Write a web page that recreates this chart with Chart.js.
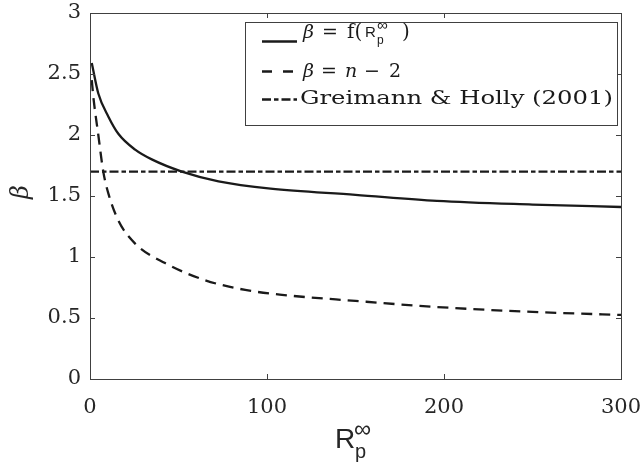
<!DOCTYPE html>
<html>
<head>
<meta charset="utf-8">
<script src="https://cdn.jsdelivr.net/npm/chart.js@4.4.1/dist/chart.umd.min.js"></script>
<style>
  html, body { margin: 0; padding: 0; background: #fff; }
  #wrap { width: 641px; height: 465px; }
</style>
</head>
<body>
<div id="wrap"><canvas id="chart" width="641" height="465"></canvas></div>
<script>
// values
const xTicks = [0, 100, 200, 300];
const yTicks = [0, 0.5, 1, 1.5, 2, 2.5, 3];

const fX = [1, 4.7, 10.4, 16, 25.5, 34.9, 51.9, 72.6, 102, 150, 196, 250, 300];
const fY = [2.59, 2.34, 2.15, 2.01, 1.88, 1.80, 1.70, 1.62, 1.56, 1.51, 1.46, 1.43, 1.41];

const nX = [1, 1.9, 4.7, 7.5, 10.4, 16, 25.5, 42.4, 65, 87.7, 108.5, 150, 196, 250, 300];
const nY = [2.45, 2.31, 2.0, 1.70, 1.52, 1.30, 1.11, 0.95, 0.81, 0.73, 0.69, 0.64, 0.59, 0.55, 0.525];

const ghX = [0, 300];
const ghY = [1.7, 1.7];

const ink = "#1a1a1a";
const axisInk = "#404040";
const serif = "'DejaVu Serif', 'Liberation Serif', serif";
const sans = "'Liberation Sans', Arial, sans-serif";
const dashDot = [9, 3, 4.5, 3];

function pts(xs, ys) {
  return xs.map((x, i) => ({ x: x, y: ys[i] }));
}

function txt(c, t, font, x, y) {
  c.font = font;
  c.fillText(t, x, y);
}

// box, inward ticks, titles and legend
const decor = {
  id: "decor",
  afterDraw(chart) {
    const c = chart.ctx;
    const a = chart.chartArea;
    const sx = chart.scales.x, sy = chart.scales.y;
    c.save();
    c.strokeStyle = axisInk;
    c.lineWidth = 1;
    c.strokeRect(Math.round(a.left) + 0.5, Math.round(a.top) + 0.5,
                 Math.round(a.right - a.left), Math.round(a.bottom - a.top));
    c.beginPath();
    xTicks.forEach(v => {
      const px = Math.round(sx.getPixelForValue(v)) + 0.5;
      c.moveTo(px, a.bottom); c.lineTo(px, a.bottom - 5);
      c.moveTo(px, a.top); c.lineTo(px, a.top + 5);
    });
    yTicks.forEach(v => {
      const py = Math.round(sy.getPixelForValue(v)) + 0.5;
      c.moveTo(a.left, py); c.lineTo(a.left + 5, py);
      c.moveTo(a.right, py); c.lineTo(a.right - 5, py);
    });
    c.stroke();

    c.fillStyle = "#262626";
    c.textBaseline = "alphabetic";
    // y title
    c.save();
    c.translate(28, 192);
    c.rotate(-Math.PI / 2);
    c.font = "italic 24px " + serif;
    c.textAlign = "center";
    c.fillText("β", 0, 0);
    c.restore();
    // x title
    c.textAlign = "left";
    txt(c, "R", "28px " + sans, 335, 448);
    txt(c, "p", "20px " + sans, 355, 458);
    txt(c, "∞", "24px " + sans, 354, 437);

    // legend
    const lx = 245, ly = 22, lw = 372, lh = 103;
    c.fillStyle = "#fff";
    c.fillRect(lx, ly, lw, lh);
    c.strokeStyle = axisInk;
    c.strokeRect(lx + 0.5, ly + 0.5, lw, lh);
    c.strokeStyle = ink;
    c.lineWidth = 2.3;
    const rows = [41.5, 71.5, 99.5];
    const dashes = [[], [10, 11], dashDot];
    rows.forEach((y, i) => {
      c.setLineDash(dashes[i]);
      c.beginPath();
      c.moveTo(262, y); c.lineTo(297, y);
      c.stroke();
    });
    c.setLineDash([]);
    c.fillStyle = ink;
    const it = "italic 19px " + serif, rm = "19px " + serif;
    // row 1
    txt(c, "β", it, 303, 38);
    txt(c, "=", rm, 322, 38);
    txt(c, "f(", "20px " + serif, 347, 38);
    txt(c, "R", "15px " + sans, 365, 37);
    txt(c, "p", "12px " + sans, 377, 44);
    txt(c, "∞", "15px " + sans, 377, 30);
    txt(c, ")", "20px " + serif, 402, 38);
    // row 2
    txt(c, "β", it, 303, 77);
    txt(c, "=", rm, 321, 77);
    txt(c, "n", it, 345, 77);
    txt(c, "−", rm, 364, 77);
    txt(c, "2", rm, 389, 77);
    // row 3, stretched to the reference width
    c.font = rm;
    const t = "Greimann & Holly (2001)";
    const w = c.measureText(t).width;
    c.save();
    c.translate(300, 104);
    c.scale(313 / w, 1);
    c.fillText(t, 0, 0);
    c.restore();
    c.restore();
  }
};

const ctx = document.getElementById("chart").getContext("2d");
const chart = new Chart(ctx, {
  type: "scatter",
  data: {
    datasets: [
      {
        label: "f",
        data: pts(fX, fY),
        showLine: true,
        borderColor: ink,
        borderWidth: 2.3,
        pointRadius: 0,
        cubicInterpolationMode: "monotone",
      },
      {
        label: "n-2",
        data: pts(nX, nY),
        showLine: true,
        borderColor: ink,
        borderWidth: 2.3,
        borderDash: [11, 7],
        pointRadius: 0,
        cubicInterpolationMode: "monotone",
      },
      {
        label: "GH",
        data: pts(ghX, ghY),
        showLine: true,
        borderColor: ink,
        borderWidth: 2.3,
        borderDash: dashDot,
        pointRadius: 0,
      },
    ],
  },
  options: {
    responsive: false,
    animation: false,
    layout: { padding: { left: 0, right: 20, top: 13, bottom: 0 } },
    plugins: {
      legend: { display: false },
      tooltip: { enabled: false },
    },
    scales: {
      x: {
        type: "linear",
        min: 0,
        max: 300,
        afterBuildTicks: s => { s.ticks = xTicks.map(v => ({ value: v })); },
        afterFit: s => { s.height = 86; s.paddingLeft = 0; s.paddingRight = 0; },
        grid: { display: false, drawTicks: false },
        border: { display: false },
        ticks: { color: "#262626", font: { family: serif, size: 21 }, padding: 16, maxRotation: 0,
                 callback: v => String(v) },
      },
      y: {
        type: "linear",
        min: 0,
        max: 3,
        afterBuildTicks: s => { s.ticks = yTicks.map(v => ({ value: v })); },
        afterFit: s => { s.width = 90; s.paddingTop = 0; s.paddingBottom = 0; },
        grid: { display: false, drawTicks: false },
        border: { display: false },
        ticks: { color: "#262626", font: { family: serif, size: 21 }, padding: 9,
                 callback: v => String(v) },
      },
    },
  },
  plugins: [decor],
});
</script>
</body>
</html>
